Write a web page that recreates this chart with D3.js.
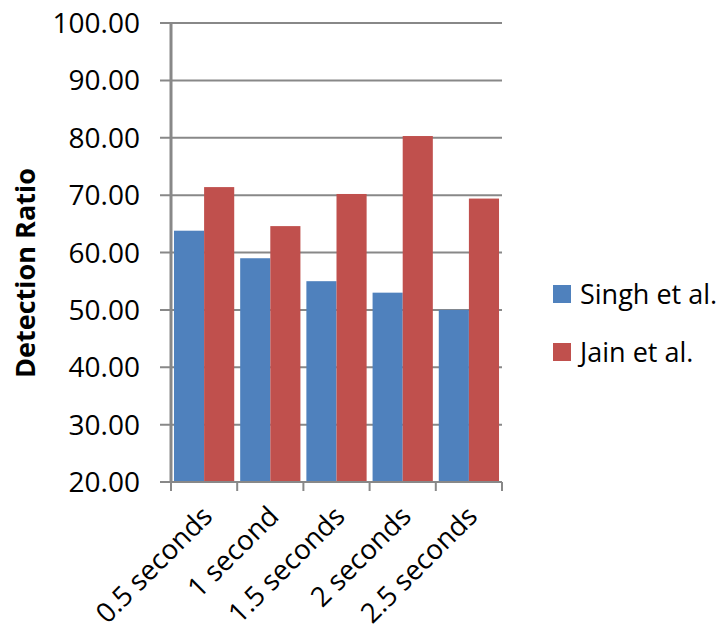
<!DOCTYPE html>
<html>
<head>
<meta charset="utf-8">
<script src="https://cdn.jsdelivr.net/npm/d3@7"></script>
<style>
  html, body { margin: 0; padding: 0; background: #fff; }
  svg { display: block; }
  text { font-family: "Open Sans", Lato, sans-serif; fill: #000; }
</style>
</head>
<body>
<svg id="chart" width="723" height="634"></svg>
<script>
const categories = ["0.5 seconds", "1 second", "1.5 seconds", "2 seconds", "2.5 seconds"];
const seriesNames = ["Singh et al.", "Jain et al."];
const singhValues = [63.8, 59.0, 55.0, 53.0, 50.0];
const jainValues = [71.4, 64.6, 70.2, 80.3, 69.4];
const yTicks = [20, 30, 40, 50, 60, 70, 80, 90, 100];
const colors = ["#4F81BD", "#C0504D"];

const svg = d3.select("#chart");
const margin = { left: 171, right: 221, top: 23, bottom: 152 };
const W = 723, H = 634;
const innerW = W - margin.left - margin.right;
const innerH = H - margin.top - margin.bottom;

const g = svg.append("g").attr("transform", `translate(${margin.left},${margin.top})`);

const x = d3.scaleBand().domain(categories).range([0, innerW]).paddingInner(0.09).paddingOuter(0.045);
const x1 = d3.scaleBand().domain(seriesNames).range([0, x.bandwidth()]);
const y = d3.scaleLinear().domain([20, 100]).range([innerH, 0]);

// gridlines with short ticks on the left
g.append("g")
  .selectAll("line")
  .data(yTicks)
  .join("line")
  .attr("x1", -11).attr("x2", innerW)
  .attr("y1", d => y(d)).attr("y2", d => y(d))
  .attr("stroke", "#888").attr("stroke-width", 2);

// y tick labels
g.append("g")
  .selectAll("text")
  .data(yTicks)
  .join("text")
  .attr("x", -31).attr("y", d => y(d))
  .attr("dy", "0.36em")
  .attr("text-anchor", "end")
  .style("font-size", "28px")
  .text(d => d.toFixed(2));

// bars
const rows = categories.map((c, i) => ({ cat: c, vals: [singhValues[i], jainValues[i]] }));
g.append("g")
  .selectAll("g")
  .data(rows)
  .join("g")
  .attr("transform", d => `translate(${x(d.cat)},0)`)
  .selectAll("rect")
  .data(d => d.vals.map((v, k) => ({ v, k })))
  .join("rect")
  .attr("x", d => x1(seriesNames[d.k]))
  .attr("width", x1.bandwidth())
  .attr("y", d => y(d.v))
  .attr("height", d => y(20) - y(d.v))
  .attr("fill", d => colors[d.k]);

// y axis line
g.append("line")
  .attr("x1", 0).attr("x2", 0).attr("y1", 0).attr("y2", innerH)
  .attr("stroke", "#888").attr("stroke-width", 3);

// x axis baseline and category boundary ticks
g.append("line")
  .attr("x1", 0).attr("x2", innerW).attr("y1", innerH).attr("y2", innerH)
  .attr("stroke", "#888").attr("stroke-width", 2);
const step = x.step();
const bounds = d3.range(categories.length + 1).map(i => i * step);
g.append("g")
  .selectAll("line")
  .data(bounds)
  .join("line")
  .attr("x1", d => d).attr("x2", d => d)
  .attr("y1", innerH).attr("y2", innerH + 9)
  .attr("stroke", "#888").attr("stroke-width", 2);

// rotated category labels
g.append("g")
  .selectAll("text")
  .data(categories)
  .join("text")
  .attr("transform", d => `translate(${x(d) + x.bandwidth() / 2 + 10},${innerH + 36}) rotate(-45)`)
  .attr("text-anchor", "end")
  .style("font-size", "27.5px")
  .text(d => d);

// y axis title
svg.append("text")
  .attr("transform", `translate(35,${273}) rotate(-90)`)
  .attr("text-anchor", "middle")
  .style("font-size", "27px")
  .style("font-weight", "bold")
  .text("Detection Ratio");

// legend
const legend = svg.append("g").attr("transform", "translate(553,285)");
seriesNames.forEach((name, i) => {
  const row = legend.append("g").attr("transform", `translate(0,${i * 58})`);
  row.append("rect").attr("width", 18).attr("height", 18).attr("fill", colors[i]);
  row.append("text").attr("x", 27).attr("y", 9).attr("dy", "0.36em")
    .style("font-size", "27px").text(name);
});
</script>
</body>
</html>
